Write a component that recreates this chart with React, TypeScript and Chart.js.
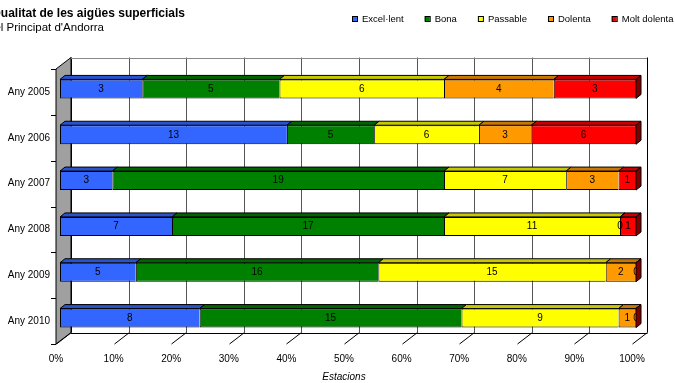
import React, { useEffect, useRef } from "react";
import { Chart, registerables } from "chart.js";

Chart.register(...registerables);

// Stations per water-quality class, by year
const years = ["Any 2005", "Any 2006", "Any 2007", "Any 2008", "Any 2009", "Any 2010"];
const excellent = [3, 13, 3, 7, 5, 8];
const good = [5, 5, 19, 17, 16, 15];
const fair = [6, 6, 7, 11, 15, 9];
const poor = [4, 3, 3, 0, 2, 1];
const veryPoor = [3, 6, 1, 1, 0, 0];

const classNames = ["Excel·lent", "Bona", "Passable", "Dolenta", "Molt dolenta"];
const classCounts = [excellent, good, fair, poor, veryPoor];

const titleText = "Qualitat de les aigües superficials";
const subtitleText = "del Principat d'Andorra";
const axisTitle = "Estacions";

const FONT = "'Liberation Sans', Arial, sans-serif";

// face colours: front, top
const frontColors = ["#3366ff", "#008000", "#ffff00", "#ff9900", "#ff0000"];
const topColors = ["#2952cc", "#006400", "#c8c800", "#c87800", "#c80000"];
const endSideColor = "#800000";

// 3D geometry (pixels)
const WALL = { dx: 15, dy: -11.5 };
const BAR_SHIFT = { dx: 4, dy: -3 };
const BAR_DEPTH = { dx: 5, dy: -4 };

const totals = years.map((_, i) => classCounts.reduce((s, arr) => s + arr[i], 0));
const percentOf = (arr: number[]) => arr.map((v, i) => (v / totals[i]) * 100);

const line = (ctx: CanvasRenderingContext2D, x1: number, y1: number, x2: number, y2: number) => {
  ctx.beginPath();
  ctx.moveTo(x1, y1);
  ctx.lineTo(x2, y2);
  ctx.stroke();
};

const boxPlugin = {
  id: "box3d",
  beforeDatasetsDraw(chart: any) {
    const { ctx, chartArea: a, scales } = chart;
    const xs = scales.x;
    ctx.save();
    ctx.lineWidth = 1;

    // back wall
    ctx.fillStyle = "#ffffff";
    ctx.fillRect(a.left + WALL.dx, a.top + WALL.dy, a.right - a.left, a.bottom - a.top);

    // side wall
    ctx.fillStyle = "#a0a0a0";
    ctx.beginPath();
    ctx.moveTo(a.left, a.top);
    ctx.lineTo(a.left + WALL.dx, a.top + WALL.dy);
    ctx.lineTo(a.left + WALL.dx, a.bottom + WALL.dy);
    ctx.lineTo(a.left, a.bottom);
    ctx.closePath();
    ctx.fill();
    ctx.strokeStyle = "#000";
    ctx.stroke();

    // grid lines on the back wall and floor ticks
    for (let v = 0; v <= 100; v += 10) {
      const px = Math.round(xs.getPixelForValue(v)) + 0.5;
      ctx.strokeStyle = v === 0 || v === 100 ? "#000" : "#555";
      line(ctx, px + WALL.dx, a.top + WALL.dy, px + WALL.dx, a.bottom + WALL.dy);
      ctx.strokeStyle = "#000";
      line(ctx, px, a.bottom, px + WALL.dx, a.bottom + WALL.dy);
    }
    // top edge of back wall and back edge of floor
    ctx.strokeStyle = "#888";
    line(ctx, a.left + WALL.dx, Math.round(a.top + WALL.dy) + 0.5, a.right + WALL.dx, Math.round(a.top + WALL.dy) + 0.5);
    ctx.strokeStyle = "#000";
    line(ctx, a.left + WALL.dx, Math.round(a.bottom + WALL.dy) + 0.5, a.right + WALL.dx + 0.5, Math.round(a.bottom + WALL.dy) + 0.5);

    // category tick marks on the side wall edge
    const n = years.length;
    for (let i = 0; i <= n; i++) {
      const yy = Math.round(a.top + (i * (a.bottom - a.top)) / n) + 0.5;
      line(ctx, a.left - 5, yy, a.left, yy);
    }
    ctx.restore();

    // bars sit a little behind the front of the floor
    ctx.save();
    ctx.translate(BAR_SHIFT.dx, BAR_SHIFT.dy);
  },
  afterDatasetsDraw(chart: any) {
    const { ctx } = chart;
    const nSets = chart.data.datasets.length;
    ctx.lineWidth = 1;
    ctx.strokeStyle = "#000";

    for (let d = 0; d < nSets; d++) {
      const meta = chart.getDatasetMeta(d);
      meta.data.forEach((el: any, i: number) => {
        const left = Math.min(el.base, el.x);
        const right = Math.max(el.base, el.x);
        const top = el.y - el.height / 2;
        // top face
        ctx.fillStyle = topColors[d];
        ctx.beginPath();
        ctx.moveTo(left, top);
        ctx.lineTo(left + BAR_DEPTH.dx, top + BAR_DEPTH.dy);
        ctx.lineTo(right + BAR_DEPTH.dx, top + BAR_DEPTH.dy);
        ctx.lineTo(right, top);
        ctx.closePath();
        ctx.fill();
        ctx.stroke();
        // value label
        ctx.fillStyle = "#000";
        ctx.font = `10px ${FONT}`;
        ctx.textAlign = "center";
        ctx.textBaseline = "middle";
        ctx.fillText(String(classCounts[d][i]), (left + right) / 2, el.y);
      });
    }

    // right-hand end face of each stack
    const lastMeta = chart.getDatasetMeta(nSets - 1);
    lastMeta.data.forEach((el: any) => {
      const right = Math.max(el.base, el.x);
      const top = el.y - el.height / 2;
      const bottom = el.y + el.height / 2;
      ctx.fillStyle = endSideColor;
      ctx.beginPath();
      ctx.moveTo(right, top);
      ctx.lineTo(right + BAR_DEPTH.dx, top + BAR_DEPTH.dy);
      ctx.lineTo(right + BAR_DEPTH.dx, bottom + BAR_DEPTH.dy);
      ctx.lineTo(right, bottom);
      ctx.closePath();
      ctx.fill();
      ctx.stroke();
    });
    ctx.restore();
  },
  afterDraw(chart: any) {
    const { ctx } = chart;
    ctx.save();
    ctx.fillStyle = "#000";
    ctx.textBaseline = "alphabetic";
    ctx.textAlign = "left";
    ctx.font = `bold 12px ${FONT}`;
    ctx.fillText(titleText, -8.5, 17);
    ctx.font = `11.5px ${FONT}`;
    ctx.fillText(subtitleText, -12, 31);

    // legend
    ctx.font = `9.5px ${FONT}`;
    ctx.textBaseline = "middle";
    let lx = 352;
    classNames.forEach((name, i) => {
      ctx.fillStyle = frontColors[i];
      ctx.fillRect(lx, 16, 5, 5);
      ctx.strokeStyle = "#000";
      ctx.lineWidth = 1;
      ctx.strokeRect(lx + 0.5, 16.5, 5, 5);
      ctx.fillStyle = "#000";
      ctx.fillText(name, lx + 10, 19);
      lx += 10 + ctx.measureText(name).width + 21;
    });
    ctx.restore();
  },
};

export default function App() {
  const ref = useRef<HTMLCanvasElement>(null);

  useEffect(() => {
    if (!ref.current) return;
    const chart = new Chart(ref.current, {
      type: "bar",
      data: {
        labels: years,
        datasets: classNames.map((name, i) => ({
          label: name,
          data: percentOf(classCounts[i]),
          backgroundColor: frontColors[i],
          borderColor: "#000",
          borderWidth: { top: 1, bottom: 1, left: 1, right: 0 },
          borderSkipped: false,
          barPercentage: 0.415,
          categoryPercentage: 1,
        })),
      },
      options: {
        indexAxis: "y",
        responsive: false,
        animation: false,
        devicePixelRatio: 1,
        events: [],
        layout: { padding: { top: 69, right: 43, left: 0, bottom: 0 } },
        plugins: {
          legend: { display: false },
          title: { display: false },
          tooltip: { enabled: false },
        },
        scales: {
          x: {
            stacked: true,
            min: 0,
            max: 100,
            grid: { display: false, drawTicks: false },
            border: { display: false },
            ticks: {
              stepSize: 10,
              padding: 9,
              color: "#000",
              font: { family: FONT, size: 10 },
              callback: (v: any) => `${v}%`,
            },
            title: {
              display: true,
              text: axisTitle,
              color: "#000",
              font: { family: FONT, size: 10, style: "italic" },
              padding: { top: 0, bottom: 0 },
            },
            afterFit: (s: any) => {
              s.height = 39;
            },
          },
          y: {
            stacked: true,
            grid: { display: false, drawTicks: false },
            border: { display: false },
            ticks: {
              padding: 6,
              color: "#000",
              font: { family: FONT, size: 10 },
            },
            afterFit: (s: any) => {
              s.width = 56;
            },
          },
        },
      },
      plugins: [boxPlugin],
    } as any);
    return () => chart.destroy();
  }, []);

  return (
    <div style={{ position: "fixed", left: 0, top: 0, width: 675, height: 383, background: "#fff" }}>
      <canvas ref={ref} width={675} height={383} style={{ display: "block" }} />
    </div>
  );
}
